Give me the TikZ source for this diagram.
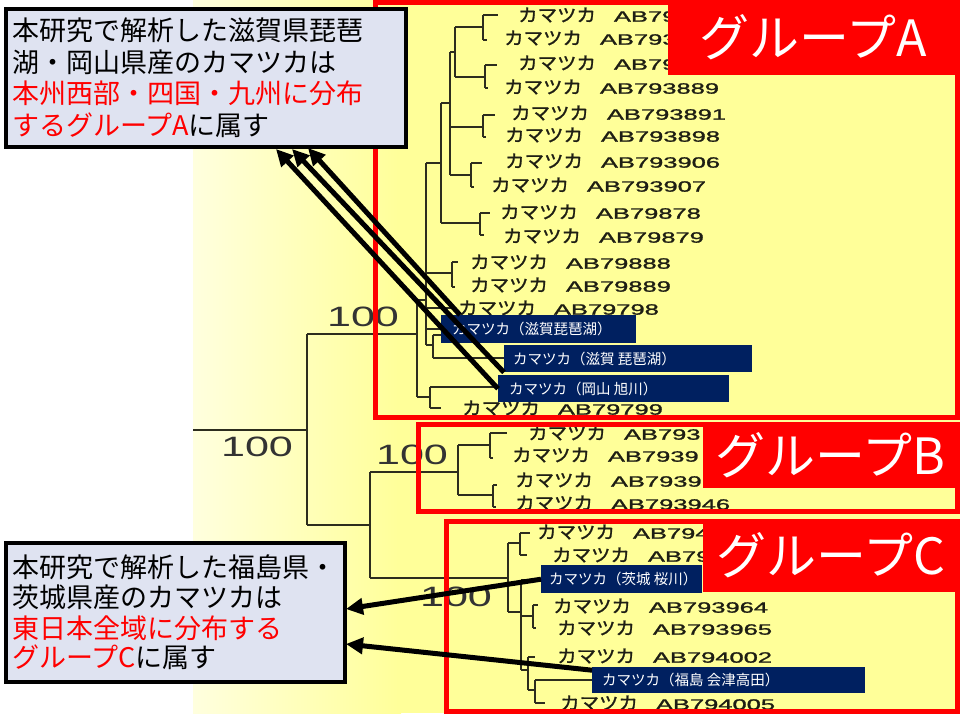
\documentclass[tikz,border=0pt]{standalone}
\usepackage{fontspec}
\newfontfamily\jp{Noto Sans CJK JP}
\newfontfamily\jpleaf[FakeBold=1.2]{Noto Sans CJK JP}
\newfontfamily\lat{Liberation Sans}
\newfontfamily\latleaf[FakeBold=1.2]{Liberation Sans}
\usetikzlibrary{arrows.meta,calc}
\definecolor{bgyellow}{RGB}{255,255,153}
\definecolor{paleyellow}{RGB}{255,255,222}
\definecolor{grpred}{RGB}{255,0,0}
\definecolor{navylbl}{RGB}{0,32,96}
\definecolor{callfill}{RGB}{223,227,241}
\definecolor{treeink}{RGB}{45,45,30}
\definecolor{leafink}{RGB}{30,30,20}
\newcommand\leafnode[4]{\node[leafsty] (#1) at (#2,#3) {\scalebox{1.08}[1]{\jpleaf\fontsize{18}{18}\selectfont カマツカ}\hspace{18pt}\scalebox{1.7}[1]{\latleaf\fontsize{15}{15}\selectfont #4}};}
\newcommand\bsval[3]{\node[bootsty] (#1) at (#2,#3) {\scalebox{1.54}[1]{\lat\fontsize{28}{28}\selectfont 100}};}
\begin{document}
\begin{tikzpicture}[x=1pt,y=-1pt,
  tree/.style={draw=treeink, line width=1.8pt, line cap=square},
  leafsty/.style={anchor=west, inner sep=0pt, text=leafink},
  bootsty/.style={inner sep=0pt, text=black!80},
  redframe/.style={draw=grpred, line width=5pt},
  grp/.style={fill=grpred, text=white, inner sep=0pt, anchor=north west, font=\jp\fontsize{50}{50}\selectfont},
  lblbox/.style={fill=navylbl, inner sep=0pt, anchor=north west},
  lbltext/.style={anchor=west, inner sep=0pt, text=white, font=\jp\fontsize{14.5}{15}\selectfont},
  callbox/.style={draw=black, line width=4pt, fill=callfill, anchor=north west, inner sep=0pt},
  calltext/.style={anchor=base west, inner sep=0pt, text=black, font=\jp\fontsize{27}{31}\selectfont},
  arr/.style={draw=black, line width=5pt, -{Triangle[length=17pt,width=16pt]}}
]
\useasboundingbox (0,0) rectangle (960,720);
\fill[white] (0,0) rectangle (960,720);
\shade[left color=paleyellow, right color=bgyellow] (193,0) rectangle (401,713);
\fill[bgyellow] (400,0) rectangle (960,713);

% tree
\draw[tree]
 (193,430) -- (307,430)
 (307,334) -- (307,525)
 (307,334) -- (417,334)
 (417,300) -- (417,397)
 (417,300) -- (426,300)
 (426,163) -- (426,345)
 (426,163) -- (441,163)
 (441,103) -- (441,223)
 (441,103) -- (450,103)
 (450,52) -- (450,175)
 (450,52) -- (455,52)
 (455,27) -- (455,77)
 (455,27) -- (483,27)
 (483,15) -- (483,40)
 (483,15) -- (498,15)
 (483,40) -- (487,40)
 (455,77) -- (485,77)
 (485,65) -- (485,88)
 (485,65) -- (497,65)
 (485,88) -- (488,88)
 (450,127) -- (483,127)
 (483,115) -- (483,137)
 (483,115) -- (495,115)
 (483,137) -- (486,137)
 (450,175) -- (471,175)
 (471,163) -- (471,187)
 (471,163) -- (482,163)
 (471,187) -- (474,187)
 (441,223) -- (480,223)
 (480,213) -- (480,235)
 (480,213) -- (490,213)
 (480,235) -- (484,235)
 (426,273) -- (452,273)
 (452,262) -- (452,287)
 (452,262) -- (458,262)
 (452,287) -- (455,287)
 (426,308) -- (452,308)
 (426,329) -- (441,329)
 (426,345) -- (433,345)
 (433,335) -- (433,358)
 (433,335) -- (441,335)
 (433,358) -- (504,358)
 (417,397) -- (430,397)
 (430,387) -- (430,408)
 (430,387) -- (498,387)
 (430,408) -- (441,408)
 (307,525) -- (370,525)
 (370,472) -- (370,578)
 (370,472) -- (458,472)
 (458,445) -- (458,495)
 (458,445) -- (490,445)
 (490,433) -- (490,458)
 (490,433) -- (507,433)
 (490,458) -- (493,458)
 (458,495) -- (493,495)
 (493,485) -- (493,507)
 (493,485) -- (497,485)
 (493,507) -- (496,507)
 (370,578) -- (508,578)
 (508,543) -- (508,612)
 (508,543) -- (520,543)
 (520,533) -- (520,555)
 (520,533) -- (530,533)
 (520,555) -- (527,555)
 (508,612) -- (521,612)
 (521,580) -- (521,670)
 (521,580) -- (541,580)
 (521,616) -- (533,616)
 (533,605) -- (533,628)
 (533,605) -- (538,605)
 (533,628) -- (536,628)
 (521,670) -- (528,670)
 (528,657) -- (528,690)
 (528,657) -- (535,657)
 (528,690) -- (535,690)
 (535,680) -- (535,703)
 (535,680) -- (592,680)
 (535,703) -- (545,703);

% bootstrap values
\bsval{bsRoot}{257}{447}
\bsval{bsA}{363}{317}
\bsval{bsB}{412}{455}
\bsval{bsC}{456}{597}

% leaves group A
\leafnode{a1}{518}{15}{AB79}
\leafnode{a2}{504}{38}{AB793}
\leafnode{a3}{518}{63}{AB79}
\leafnode{a4}{504}{87}{AB793889}
\leafnode{a5}{511}{113}{AB793891}
\leafnode{a6}{505}{135}{AB793898}
\leafnode{a7}{505}{161}{AB793906}
\leafnode{a8}{491}{185}{AB793907}
\leafnode{a9}{500}{212}{AB79878}
\leafnode{a10}{503}{236}{AB79879}
\leafnode{a11}{470}{262}{AB79888}
\leafnode{a12}{470}{285}{AB79889}
\leafnode{a13}{458}{308}{AB79798}
\leafnode{a14}{462}{408}{AB79799}
% leaves group B
\leafnode{b1}{528}{433}{AB793}
\leafnode{b2}{512}{455}{AB7939}
\leafnode{b3}{515}{480}{AB7939}
\leafnode{b4}{515}{503}{AB793946}
% leaves group C
\leafnode{c1}{537}{532}{AB794}
\leafnode{c2}{552}{555}{AB79}
\leafnode{c3}{553}{606}{AB793964}
\leafnode{c4}{557}{628}{AB793965}
\leafnode{c5}{557}{656}{AB794002}
\leafnode{c6}{560}{703}{AB794005}

% group frames
\draw[redframe] (375.5,2.5) rectangle (957.5,417);
\draw[redframe] (418,424.5) rectangle (957.5,511);
\draw[redframe] (446.5,521.5) rectangle (957.5,711.5);
\node[grp, minimum width=290pt, minimum height=75pt] (gA) at (668,0) {グループA};
\node[grp, minimum width=255pt, minimum height=66pt] (gB) at (703,422) {グループB};
\node[grp, minimum width=255pt, minimum height=73pt] (gC) at (703,519) {グループC};

% sample labels
\node[lblbox, minimum width=195pt, minimum height=28pt] (L1) at (441,315) {};
\node[lbltext] (L1t) at (452,329) {カマツカ（滋賀琵琶湖）};
\node[lblbox, minimum width=248pt, minimum height=27pt] (L2) at (504,345) {};
\node[lbltext] (L2t) at (513,358.5) {カマツカ（滋賀 琵琶湖）};
\node[lblbox, minimum width=231pt, minimum height=27pt] (L3) at (498,375) {};
\node[lbltext] (L3t) at (509,388.5) {カマツカ（岡山 旭川）};
\node[lblbox, minimum width=161pt, minimum height=28pt] (L4) at (541,565) {};
\node[lbltext] (L4t) at (549,579) {カマツカ（茨城 桜川）};
\node[lblbox, minimum width=273pt, minimum height=26pt] (L5) at (592,667) {};
\node[lbltext] (L5t) at (602,680) {カマツカ（福島 会津高田）};

% callouts
\node[callbox, minimum width=400pt, minimum height=138pt] (boxA) at (4,7) {};
\node[calltext] (ta1) at (12,40) {本研究で解析した滋賀県琵琶};
\node[calltext] (ta2) at (12,72) {湖・岡山県産のカマツカは};
\node[calltext, text=grpred] (ta3) at (12,103) {本州西部・四国・九州に分布};
\node[calltext] (ta4) at (12,135) {\textcolor{grpred}{するグループA}に属す};

\node[callbox, minimum width=339pt, minimum height=139pt] (boxC) at (4,541) {};
\node[calltext] (tc1) at (12,577) {本研究で解析した福島県・};
\node[calltext] (tc2) at (12,607) {茨城県産のカマツカは};
\node[calltext, text=grpred] (tc3) at (12,638) {東日本全域に分布する};
\node[calltext] (tc4) at (12,667) {\textcolor{grpred}{グループC}に属す};

% arrows
\coordinate (tA1) at (308,148);
\coordinate (tA2) at (292,149);
\coordinate (tA3) at (276,149);
\coordinate (tC1) at (346,609);
\coordinate (tC2) at (346,644);
\draw[arr] ($(L1.north west)+(19,0)$) -- (tA1);
\draw[arr] (L2.south west) -- (tA2);
\draw[arr] (L3.west) -- (tA3);
\draw[arr] (L4.west) -- (tC1);
\draw[arr] ($(L5.west)+(0,-10)$) -- (tC2);
\end{tikzpicture}
\end{document}
